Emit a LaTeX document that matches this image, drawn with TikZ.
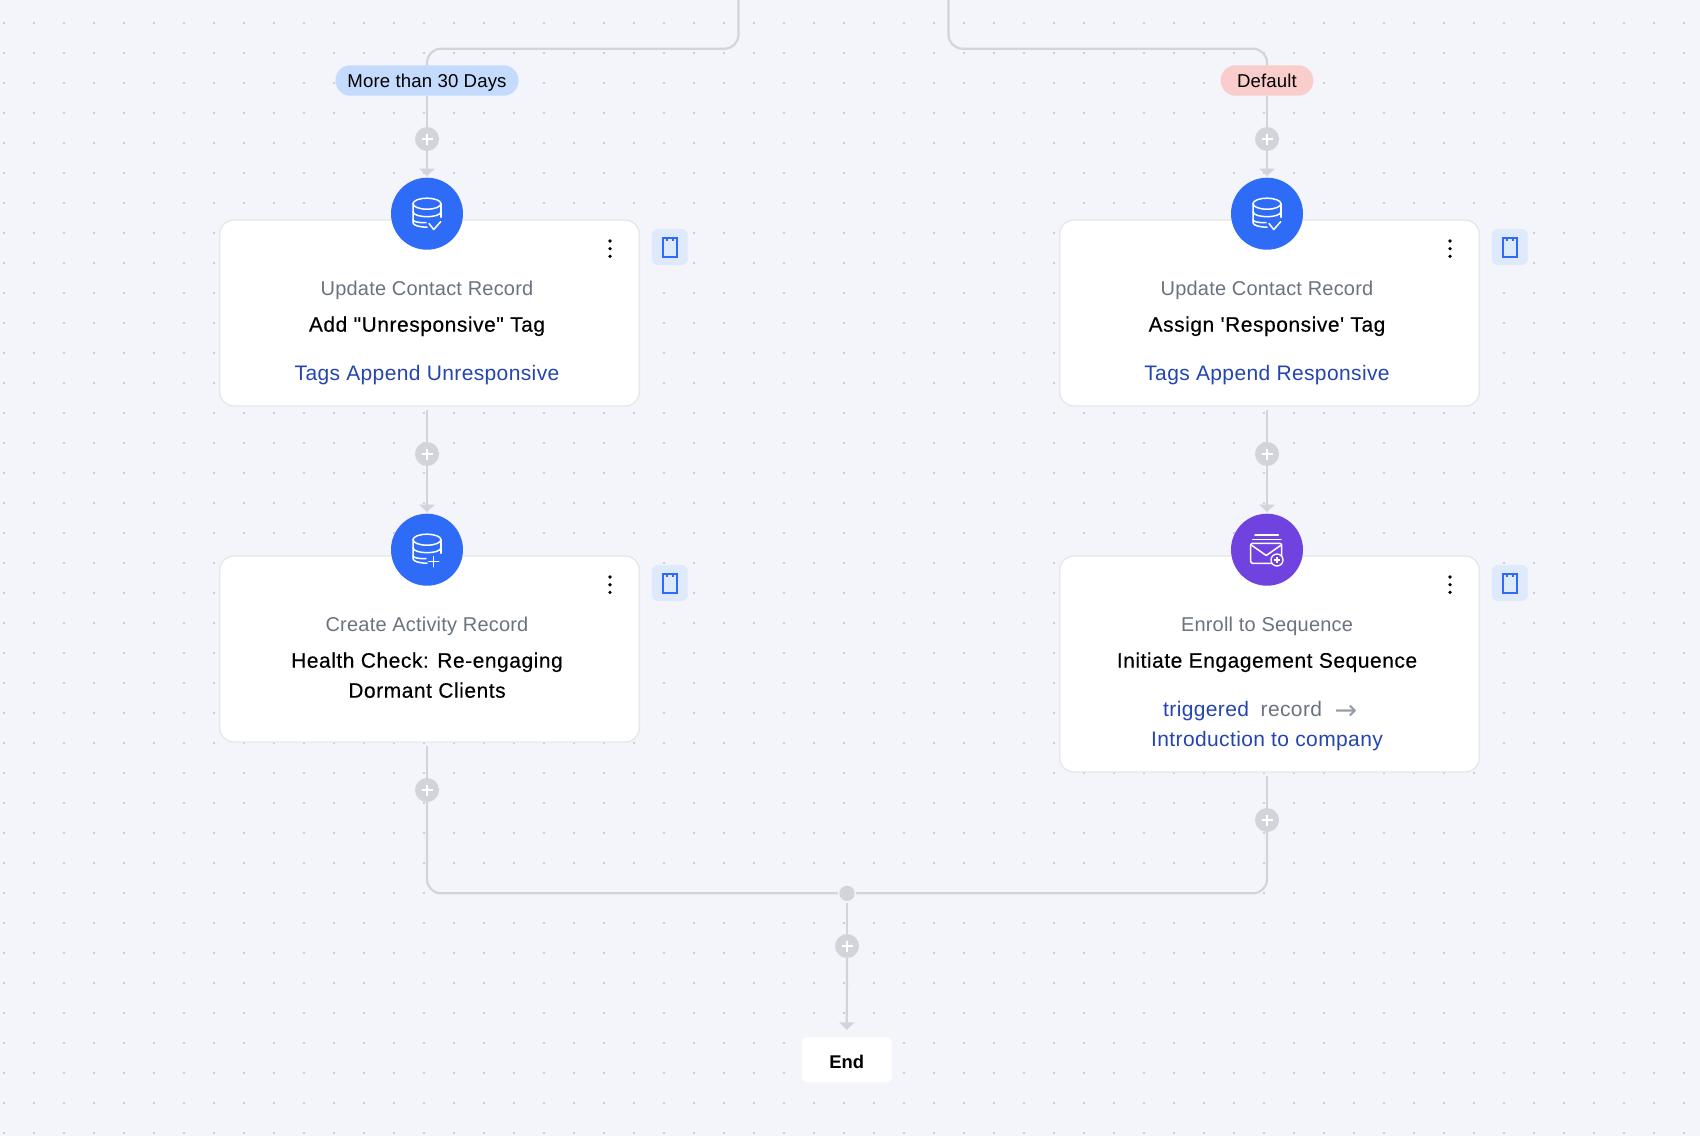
\documentclass[tikz,border=0pt]{standalone}
\usepackage{fontspec}
\setmainfont{Liberation Sans}
\newfontfamily\subfont[LetterSpace=1.0]{Liberation Sans}
\newfontfamily\titlefont[LetterSpace=2.5,FakeBold=0.25]{Liberation Sans}
\newfontfamily\linkfont[LetterSpace=1.8]{Liberation Sans}
\newfontfamily\pillfont[LetterSpace=0.8]{Liberation Sans}
\newfontfamily\arrowfont{DejaVu Sans}
\usetikzlibrary{arrows.meta,backgrounds}
\definecolor{canvasbg}{HTML}{F3F5FB}
\definecolor{griddot}{HTML}{CACED6}
\definecolor{connline}{HTML}{D1D5DB}
\definecolor{cardline}{HTML}{E5E7EB}
\definecolor{dbblue}{HTML}{2E6BF7}
\definecolor{seqpurple}{HTML}{7043E0}
\definecolor{linkblue}{HTML}{2545AE}
\definecolor{subgray}{HTML}{6B7280}
\definecolor{pillblue}{HTML}{C4DBFD}
\definecolor{pillred}{HTML}{FACDCD}
\definecolor{btnblue}{HTML}{DFE9FC}
\tikzset{
  conn/.style={draw=connline, line width=2.2pt},
  connarrow/.style={conn, -{Triangle[width=15pt,length=7.5pt]}, shorten >=1.4pt},
  card/.style={draw=cardline, fill=white, line width=1.4pt, rounded corners=14pt, minimum width=419.6pt, inner sep=0pt},
  pill/.style={rounded corners=15pt, minimum height=30.4pt, inner sep=0pt},
  pilltext/.style={font=\pillfont\fontsize{18.6}{22}\selectfont, text=black, anchor=base, inner sep=0pt},
  addnode/.style={circle, fill=connline, minimum size=24pt, inner sep=0pt, path picture={
    \draw[white, line width=1.7pt] (path picture bounding box.center) +(-5.5,0) -- +(5.5,0) +(0,-5.5) -- +(0,5.5);}},
  stepnode/.style={circle, minimum size=72pt, inner sep=0pt},
  subtext/.style={font=\subfont\fontsize{20}{24}\selectfont, text=subgray, anchor=base, inner sep=0pt},
  titletext/.style={font=\titlefont\fontsize{21}{24}\selectfont, text=black, anchor=base, inner sep=0pt},
  linktext/.style={font=\linkfont\fontsize{21}{24}\selectfont, text=linkblue, anchor=base, inner sep=0pt},
  notebtn/.style={fill=btnblue, rounded corners=6pt, minimum width=35.7pt, minimum height=36pt, inner sep=0pt},
  iconline/.style={draw=white, line width=1.5pt, line cap=round, line join=round},
  dbbase/.pic={
    \draw[iconline] (0,-10) ellipse [x radius=14, y radius=5.5];
    \draw[iconline] (-14,-10) -- (-14,9) .. controls (-14,12) and (-6,13.5) .. (0,13.5);
    \draw[iconline] (14,-10) -- (14,3.5);
    \draw[iconline] (-14,-2) .. controls (-14,1.5) and (-6,3) .. (0,3) .. controls (6,3) and (14,1.5) .. (14,-2);
    \draw[iconline] (-14,6) .. controls (-14,8) and (-9,9) .. (-1,9);
  },
  noteicon/.pic={
    \draw[draw=dbblue, line width=2pt] (-7,-9.5) rectangle (7,9.5);
    \draw[draw=dbblue, line width=1.6pt] (-3,-9.5) -- (-3,-6.5) (3,-9.5) -- (3,-6.5);
  }
}
\begin{document}
\begin{tikzpicture}[x=1pt,y=-1pt]
\useasboundingbox (0,0) rectangle (1700,1136);
% cards first, the step circles sit on top
\node[card, minimum height=186pt] (cardUnresp) at (429.5,313) {};
\node[card, minimum height=186pt] (cardHealth) at (429.5,649) {};
\node[card, minimum height=186pt] (cardResp) at (1269.5,313) {};
\node[card, minimum height=216pt] (cardEnroll) at (1269.5,664) {};
\node[stepnode, fill=dbblue] (stepUnresp) at (427,213.7) {};
\node[stepnode, fill=dbblue] (stepHealth) at (427,549.7) {};
\node[stepnode, fill=dbblue] (stepResp) at (1267,213.7) {};
\node[stepnode, fill=seqpurple] (stepEnroll) at (1267,549.7) {};
\pic at (stepUnresp.center) {dbbase};
\draw[iconline] (429,223.5) -- (433.7,229.5) -- (440.7,221.7);
\pic at (stepHealth.center) {dbbase};
\draw[iconline] (433.7,556.7) -- (433.7,566.7) (428.7,561.7) -- (438.7,561.7);
\pic at (stepResp.center) {dbbase};
\draw[iconline] (1269,223.5) -- (1273.7,229.5) -- (1280.7,221.7);
% envelope icon
\draw[iconline] (1255,535) -- (1278.3,535) (1252.7,539.3) -- (1281,539.3);
\draw[iconline, rounded corners=2pt] (1250.7,543.3) rectangle (1281.7,563.3);
\draw[iconline] (1252,545.5) -- (1266.2,555.5) -- (1280.5,545.5);
\node[circle, draw=white, fill=seqpurple, line width=1.3pt, minimum size=12pt, inner sep=0pt] (seqAdd) at (1277,560) {};
\draw[white, line width=1.1pt] (seqAdd.center) +(-3,0) -- +(3,0) +(0,-3) -- +(0,3);
% buttons and menus beside the cards
\foreach \x in {0,840}
  \foreach \y in {0,336}{
    \node[notebtn] (btn\x-\y) at (669.8+\x,247+\y) {};
    \pic at (btn\x-\y.center) {noteicon};
    \foreach \d in {241,248.7,256.3}\fill[black] (610+\x,\d+\y) circle (1.8);
  }
% labels
\node[pill, fill=pillblue, minimum width=183pt] (pillDays) at (427,80.5) {};
\node[pill, fill=pillred, minimum width=92.7pt] (pillDefault) at (1267,80.5) {};
\node[pilltext] (lblDays) at (427,87.3) {More than 30 Days};
\node[pilltext] (lblDefault) at (1267,87.3) {Default};
\node[subtext] (subUnresp) at (427,295) {Update Contact Record};
\node[titletext] (titleUnresp) at (427,331.7) {Add \symbol{34}Unresponsive\symbol{34} Tag};
\node[linktext] (linkUnresp) at (427,380) {Tags Append Unresponsive};
\node[subtext] (subResp) at (1267,295) {Update Contact Record};
\node[titletext] (titleResp) at (1267,331.7) {Assign \symbol{39}Responsive\symbol{39} Tag};
\node[linktext] (linkResp) at (1267,380) {Tags Append Responsive};
\node[subtext] (subHealth) at (427,631) {Create Activity Record};
\node[titletext] (titleHealth) at (427,667.7) {Health Check: Re-engaging};
\node[titletext] (titleHealthB) at (427,697.7) {Dormant Clients};
\node[subtext] (subEnroll) at (1267,631) {Enroll to Sequence};
\node[titletext] (titleEnroll) at (1267,667.7) {Initiate Engagement Sequence};
\node[linktext, anchor=base west] (linkEnroll) at (1163,716) {triggered\hspace{0.55em}\textcolor{subgray}{record}\hspace{0.6em}\textcolor{subgray!70}{\raisebox{-3pt}{\arrowfont\fontsize{27}{24}\selectfont →}}};
\node[linktext] (linkEnrollB) at (1267,746) {Introduction to company};
% add buttons, merge dot and end box
\node[addnode] (addA) at (427,139) {};
\node[addnode] (addB) at (1267,139) {};
\node[addnode] (addC) at (427,454) {};
\node[addnode] (addD) at (1267,454) {};
\node[addnode] (addE) at (427,790) {};
\node[addnode] (addF) at (1267,820) {};
\node[circle, fill=connline, draw=canvasbg, line width=1.5pt, minimum size=17pt, inner sep=0pt] (mergeDot) at (847,893.3) {};
\node[addnode] (addG) at (847,946) {};
\node[fill=white, rounded corners=6pt, minimum width=90pt, minimum height=45pt, inner sep=0pt] (endBox) at (846.7,1059.8) {};
\node[font=\fontsize{18.4}{24}\selectfont\bfseries, anchor=base, inner sep=0pt] (endLabel) at (846.7,1068.3) {End};
\coordinate (topL) at (738.5,0);
\coordinate (kneeLa) at (738.5,48.7);
\coordinate (kneeLb) at (427,48.7);
\coordinate (topR) at (948.5,0);
\coordinate (kneeRa) at (948.5,48.7);
\coordinate (kneeRb) at (1267,48.7);
\coordinate (footL) at (427,893.3);
\coordinate (footR) at (1267,893.3);
\begin{scope}[on background layer]
\fill[canvasbg] (0,0) rectangle (1700,1136);
\foreach \gx in {0,...,56}
  \foreach \gy in {0,...,37}
    \fill[griddot] (3.7+30*\gx-1,22.7+30*\gy-1) rectangle ++(2,2);
\draw[conn, rounded corners=14pt] (topL) -- (kneeLa) -- (kneeLb) -- (pillDays.center);
\draw[conn, rounded corners=14pt] (topR) -- (kneeRa) -- (kneeRb) -- (pillDefault.center);
\draw[conn] (pillDays) -- (addA);
\draw[conn] (pillDefault) -- (addB);
\draw[connarrow] (addA) -- (stepUnresp);
\draw[connarrow] (addB) -- (stepResp);
\draw[conn, shorten <=3pt] (addC |- cardUnresp.south) -- (addC);
\draw[conn, shorten <=3pt] (addD |- cardResp.south) -- (addD);
\draw[connarrow] (addC) -- (stepHealth);
\draw[connarrow] (addD) -- (stepEnroll);
\draw[conn, shorten <=3pt] (addE |- cardHealth.south) -- (addE);
\draw[conn, shorten <=3pt] (addF |- cardEnroll.south) -- (addF);
\draw[conn, rounded corners=14pt] (addE) -- (footL) -- (mergeDot.center);
\draw[conn, rounded corners=14pt] (addF) -- (footR) -- (mergeDot.center);
\draw[conn] (mergeDot) -- (addG);
\draw[connarrow, shorten >=7.3pt] (addG) -- (endBox);
\end{scope}
\end{tikzpicture}
\end{document}
